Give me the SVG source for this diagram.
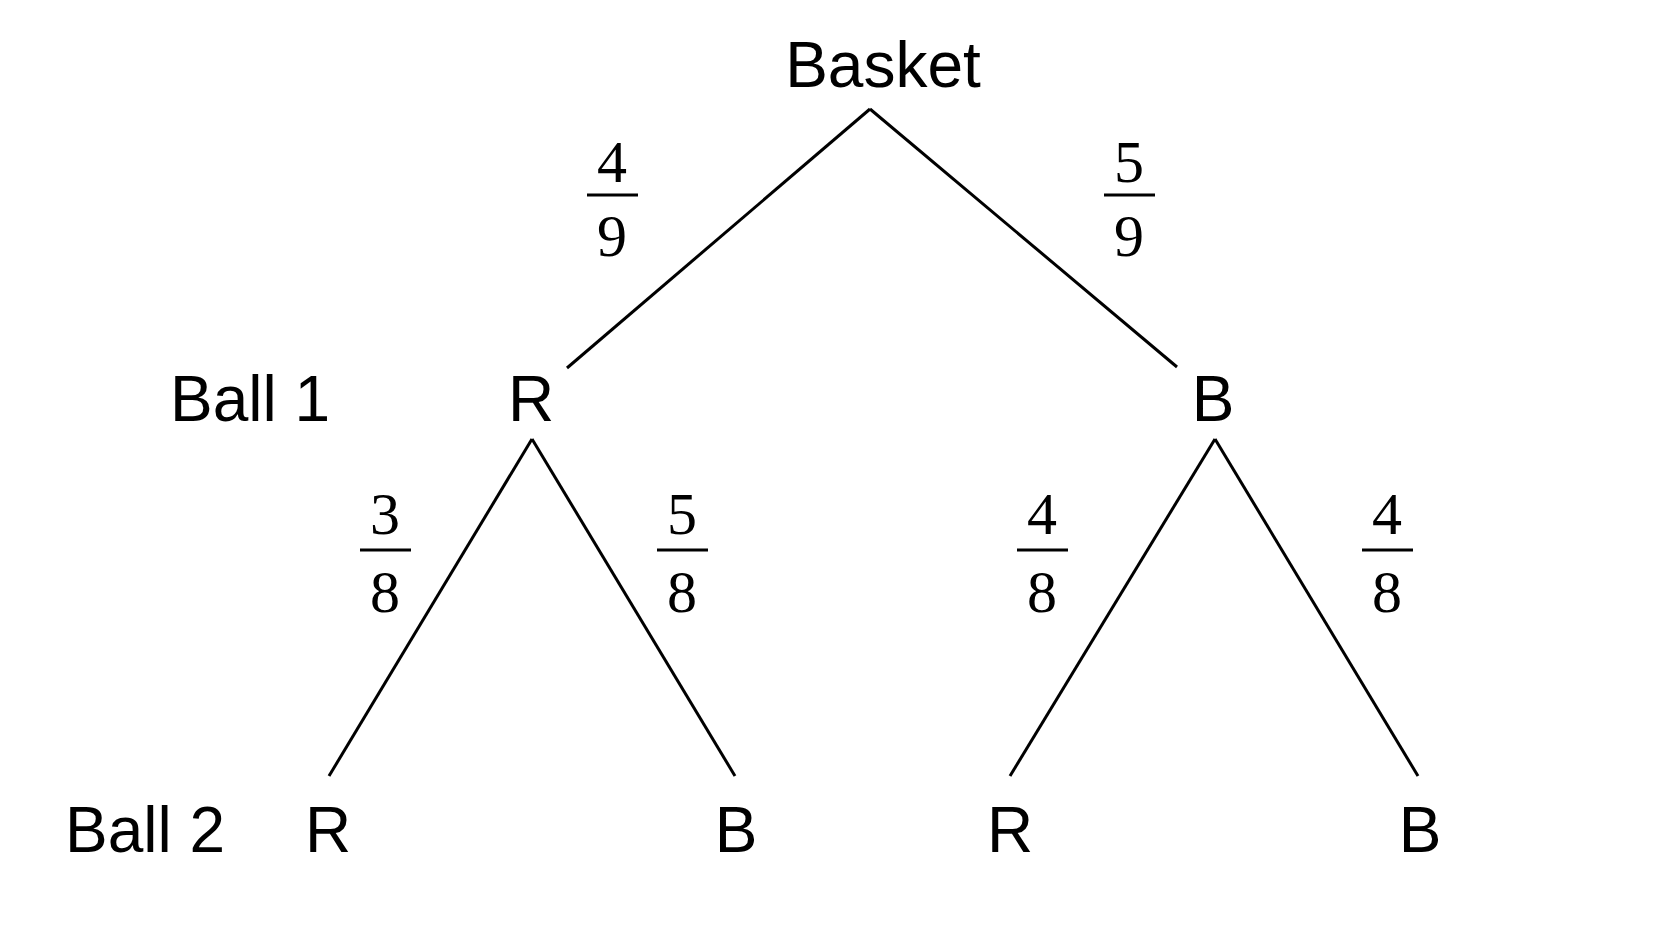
<svg xmlns="http://www.w3.org/2000/svg" width="1659" height="948" viewBox="0 0 1659 948">
<style>
.s{font-family:"Liberation Sans",Arial,sans-serif;font-size:64px;fill:#000;text-anchor:middle}
.f{font-family:"Liberation Serif","Times New Roman",serif;font-size:60px;fill:#000;text-anchor:middle}
.l{stroke:#000;stroke-width:3;fill:none}
</style>
<rect width="1659" height="948" fill="#fff"/>
<g id="connectors">
<line class="l" x1="870" y1="109" x2="567" y2="368"/>
<line class="l" x1="870" y1="109" x2="1177" y2="367"/>
<line class="l" x1="532" y1="439" x2="329" y2="776"/>
<line class="l" x1="532" y1="439" x2="735" y2="776"/>
<line class="l" x1="1215" y1="439" x2="1010" y2="776"/>
<line class="l" x1="1215" y1="439" x2="1418" y2="776"/>
</g>
<g id="basket"><text class="s" x="883" y="87">Basket</text></g>
<g id="ball1"><text class="s" x="250" y="421">Ball 1</text></g>
<g id="ball2"><text class="s" x="145" y="852">Ball 2</text></g>
<g id="r1"><text class="s" x="531" y="421">R</text></g>
<g id="b1"><text class="s" x="1213" y="421">B</text></g>
<g id="rr"><text class="s" x="328" y="852">R</text></g>
<g id="rb"><text class="s" x="736" y="852">B</text></g>
<g id="br"><text class="s" x="1010" y="852">R</text></g>
<g id="bb"><text class="s" x="1420" y="852">B</text></g>
<g id="p49"><text class="f" x="612" y="182">4</text><line class="l" x1="587" y1="195" x2="638" y2="195"/><text class="f" x="612" y="256">9</text></g>
<g id="p59"><text class="f" x="1129" y="182">5</text><line class="l" x1="1104" y1="195" x2="1155" y2="195"/><text class="f" x="1129" y="256">9</text></g>
<g id="p38"><text class="f" x="385" y="534">3</text><line class="l" x1="360" y1="550" x2="411" y2="550"/><text class="f" x="385" y="612">8</text></g>
<g id="p58"><text class="f" x="682" y="534">5</text><line class="l" x1="657" y1="550" x2="708" y2="550"/><text class="f" x="682" y="612">8</text></g>
<g id="p48a"><text class="f" x="1042" y="534">4</text><line class="l" x1="1017" y1="550" x2="1068" y2="550"/><text class="f" x="1042" y="612">8</text></g>
<g id="p48b"><text class="f" x="1387" y="534">4</text><line class="l" x1="1362" y1="550" x2="1413" y2="550"/><text class="f" x="1387" y="612">8</text></g>
</svg>
